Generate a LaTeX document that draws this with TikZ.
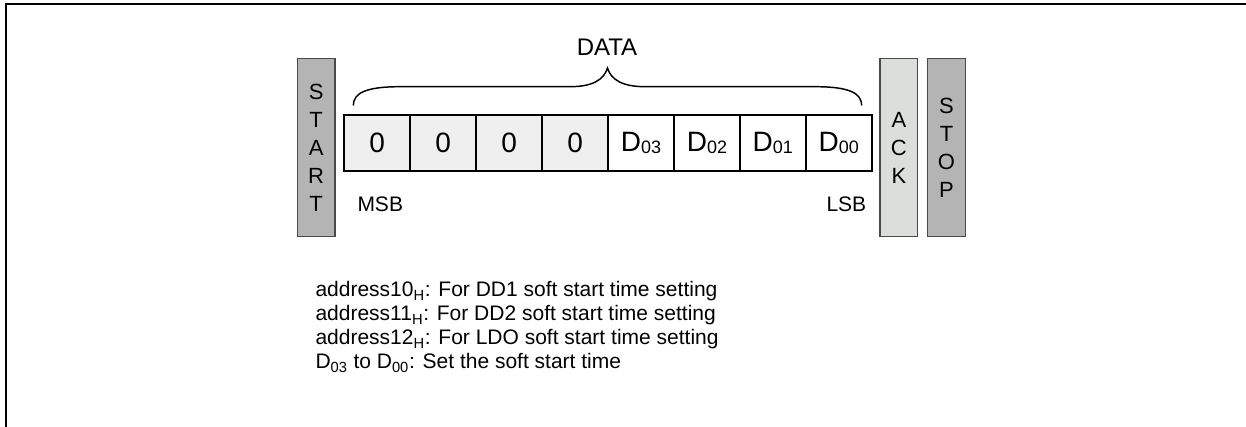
\documentclass[tikz,border=0pt]{standalone}
\usepackage{fontspec}
\setmainfont{Liberation Sans}

\definecolor{framegray}{HTML}{B4B4B4}
\definecolor{ackgray}{HTML}{DCDEDC}
\definecolor{zerogray}{HTML}{EFEFEF}
\definecolor{edgegray}{HTML}{4A4A4A}

\newcommand{\bitsub}[1]{\raisebox{-1.5pt}{\fontsize{13.5}{14}\selectfont #1}}

\tikzset{every picture/.style={line width=0.75pt}}
\tikzset{
	bitcell/.style={draw, line width=1.3pt, minimum width=49.45pt, minimum height=41.8pt, inner sep=0pt, font=\fontsize{21}{24}\selectfont},
	zerocell/.style={bitcell, fill=zerogray},
	sidebox/.style={draw=edgegray, line width=0.9pt, minimum width=28.3pt, minimum height=133.5pt, inner sep=0pt, align=center, font=\fontsize{16.5}{21}\selectfont},
	plaintext/.style={inner sep=0pt, font=\fontsize{15.75}{18}\selectfont},
}

\begin{document}
\begin{tikzpicture}[x=0.75pt,y=0.75pt,yscale=-1,xscale=1]
	\useasboundingbox (0,0) rectangle (1246,427);

	%Frame
	\draw [line width=1.5pt]  (6,427) -- (6,4) -- (1246,4) ;

	%Side boxes
	\node [sidebox, fill=framegray] (start) at (316.15,147.5) {S\\T\\A\\R\\T};
	\node [sidebox, fill=ackgray] (ack) at (898.85,147.5) {A\\C\\K};
	\node [sidebox, fill=framegray] (stop) at (946.5,147.5) {S\\T\\O\\P};

	%Data bits
	\node [zerocell] (b7) at (377.27,142.85) {0};
	\node [zerocell] (b6) at (443.2,142.85) {0};
	\node [zerocell] (b5) at (509.13,142.85) {0};
	\node [zerocell] (b4) at (575.06,142.85) {0};
	\node [bitcell] (b3) at (640.99,142.85) {D\bitsub{03}};
	\node [bitcell] (b2) at (706.92,142.85) {D\bitsub{02}};
	\node [bitcell] (b1) at (772.85,142.85) {D\bitsub{01}};
	\node [bitcell] (b0) at (838.78,142.85) {D\bitsub{00}};

	%Brace
	\draw [line width=1.1pt]  (353.3,105.5) .. controls (353.3,93) and (366,86.7) .. (400,86.7) -- (570,86.7) .. controls (592,86.7) and (604,80) .. (607.5,68) .. controls (611,80) and (623,86.7) .. (645,86.7) -- (815,86.7) .. controls (849,86.7) and (861.7,93) .. (861.7,105.5) ;

	% Text Node
	\node [plaintext, font=\fontsize{18}{20}\selectfont, anchor=base] (data) at (607,56) {DATA};
	% Text Node
	\node [plaintext, anchor=base west] (msb) at (357,211.7) {MSB};
	% Text Node
	\node [plaintext, anchor=base east] (lsb) at (866.7,211.7) {LSB};

	% Text Node
	\node [plaintext, anchor=base west] (note1) at (315,297) {address10\textsubscript{H}: For DD1 soft start time setting};
	% Text Node
	\node [plaintext, anchor=base west] (note2) at (315,321) {address11\textsubscript{H}: For DD2 soft start time setting};
	% Text Node
	\node [plaintext, anchor=base west] (note3) at (315,345) {address12\textsubscript{H}: For LDO soft start time setting};
	% Text Node
	\node [plaintext, anchor=base west] (note4) at (315,369) {D\textsubscript{03} to D\textsubscript{00}: Set the soft start time};

\end{tikzpicture}
\end{document}
